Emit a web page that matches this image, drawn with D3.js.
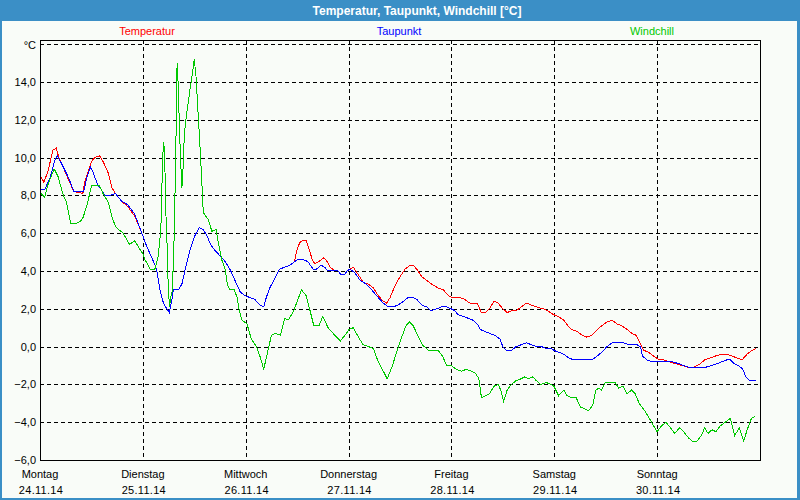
<!DOCTYPE html>
<html><head><meta charset="utf-8">
<script src="https://cdn.jsdelivr.net/npm/d3@7"></script>
<style>html,body{margin:0;padding:0;background:#3b8fc6;overflow:hidden}svg{display:block}</style>
</head><body><svg id="c" width="800" height="500"></svg>
<script>
const chartTitle = "Temperatur, Taupunkt, Windchill [°C]";
const seriesNames = ["Temperatur", "Taupunkt", "Windchill"];
const seriesColors = ["#ff0000", "#0000ff", "#00c800"];
const dayNames = ["Montag", "Dienstag", "Mittwoch", "Donnerstag", "Freitag", "Samstag", "Sonntag"];
const dayDates = ["24.11.14", "25.11.14", "26.11.14", "27.11.14", "28.11.14", "29.11.14", "30.11.14"];
const yTickValues = [-6, -4, -2, 0, 2, 4, 6, 8, 10, 12, 14];
const unitLabel = "°C";
const yMin = -6, yMax = 16.22, hoursTotal = 168;

// [hours since Monday 00:00, °C]
const temperature = [[0.2,9.0],[0.9,8.7],[1.9,9.3],[3.0,10.4],[3.8,10.5],[4.4,10.0],[5.0,9.7],[6.5,8.9],[7.9,8.2],[10.0,8.1],[10.4,8.7],[11.6,9.5],[12.0,9.8],[12.8,10.0],[13.9,10.1],[14.7,9.8],[15.9,9.2],[16.8,8.4],[17.6,8.1],[19.0,7.7],[20.5,7.4],[22.1,6.9],[23.6,6.1],[24.9,5.3],[26.1,4.7],[27.2,4.1],[28.0,3.0],[28.8,2.3],[29.6,2.0],[30.2,1.8],[30.5,2.2],[30.9,2.6],[31.1,3.0],[32.3,3.0],[33.1,3.3],[33.8,4.0],[35.0,5.1],[36.2,5.9],[37.2,6.3],[38.0,6.2],[38.9,5.9],[39.8,5.4],[40.8,5.1],[42.0,4.8],[43.2,4.5],[44.3,4.1],[45.5,3.5],[46.7,2.9],[47.8,2.7],[48.9,2.6],[50.1,2.5],[51.3,2.2],[52.2,2.1],[52.8,2.6],[53.6,3.1],[54.8,3.6],[55.9,4.1],[57.1,4.2],[58.3,4.3],[59.4,4.5],[59.8,5.0],[60.6,5.5],[61.2,5.6],[62.1,5.6],[62.9,5.1],[63.5,4.6],[64.1,4.4],[65.1,4.5],[66.2,4.7],[67.0,4.5],[67.7,4.2],[68.8,4.0],[69.5,4.0],[70.3,3.8],[71.1,3.8],[71.6,4.0],[72.3,4.1],[73.1,4.2],[74.3,3.8],[75.4,3.4],[76.6,3.3],[77.8,3.1],[78.9,2.7],[80.1,2.4],[80.9,2.3],[81.7,2.6],[82.8,3.2],[84.0,3.7],[85.2,4.1],[86.3,4.3],[87.1,4.3],[87.9,4.1],[89.1,3.7],[90.2,3.5],[91.4,3.3],[92.9,3.1],[94.1,3.0],[95.3,2.7],[96.1,2.6],[96.8,2.6],[97.9,2.6],[99.1,2.5],[100.3,2.3],[101.4,2.3],[102.0,2.3],[103.0,1.8],[103.9,1.8],[104.9,2.0],[105.9,2.4],[106.9,2.3],[108.0,2.0],[109.0,1.8],[110.1,1.9],[111.1,1.9],[112.3,2.1],[113.5,2.3],[114.6,2.2],[115.8,2.1],[117.4,2.0],[118.5,1.9],[119.7,1.7],[120.9,1.6],[122.2,1.4],[123.2,1.1],[124.1,0.9],[125.3,0.8],[126.5,0.6],[127.6,0.5],[128.8,0.6],[130.0,0.9],[131.1,1.1],[132.3,1.3],[133.5,1.4],[134.6,1.2],[135.8,1.1],[137.0,0.9],[138.1,0.7],[139.1,0.6],[139.8,0.3],[140.9,-0.2],[142.0,-0.3],[143.2,-0.5],[144.4,-0.7],[145.5,-0.7],[146.7,-0.8],[148.2,-0.9],[149.8,-1.0],[151.4,-1.1],[152.5,-1.1],[154.1,-0.9],[155.1,-0.7],[156.4,-0.6],[157.6,-0.5],[159.1,-0.4],[160.3,-0.4],[161.5,-0.5],[162.6,-0.6],[163.8,-0.7],[165.0,-0.4],[166.1,-0.2],[167.1,-0.1]];

const dewPoint = [[0.2,8.3],[1.1,8.3],[2.3,8.9],[3.4,9.8],[4.0,10.1],[5.0,9.7],[6.1,9.2],[6.9,8.8],[7.9,8.2],[10.2,8.2],[11.0,9.0],[11.8,9.5],[12.4,9.2],[13.4,8.6],[14.3,8.3],[15.1,8.0],[16.3,8.0],[17.6,8.1],[19.0,7.7],[20.5,7.5],[22.1,7.0],[23.6,6.1],[24.9,5.3],[26.1,4.7],[27.2,4.1],[28.0,3.0],[28.8,2.3],[29.6,2.0],[30.2,1.8],[30.5,2.2],[30.9,2.6],[31.1,3.0],[32.3,3.0],[33.1,3.3],[33.8,4.0],[35.0,5.1],[36.2,5.9],[37.2,6.3],[38.0,6.2],[38.9,5.9],[39.8,5.4],[40.8,5.1],[42.0,4.8],[43.2,4.5],[44.3,4.1],[45.5,3.5],[46.7,2.9],[47.8,2.7],[48.9,2.6],[50.1,2.5],[51.3,2.2],[52.2,2.1],[52.8,2.6],[53.6,3.1],[54.8,3.6],[55.9,4.1],[57.1,4.2],[58.3,4.3],[59.4,4.5],[60.2,4.6],[61.4,4.6],[62.5,4.5],[63.7,4.1],[64.5,4.1],[65.6,4.3],[66.4,4.2],[67.2,4.0],[68.4,4.0],[69.5,4.0],[70.3,3.8],[71.1,3.8],[71.6,4.0],[72.3,4.1],[73.5,3.9],[74.7,3.5],[76.2,3.3],[77.4,3.0],[78.9,2.6],[80.1,2.3],[81.3,2.1],[82.4,2.1],[83.6,2.2],[84.8,2.4],[85.9,2.6],[87.1,2.6],[87.9,2.5],[89.1,2.2],[90.2,2.1],[91.2,1.9],[92.6,2.0],[93.7,2.1],[94.9,2.1],[95.9,2.0],[96.8,1.9],[97.5,1.7],[98.7,1.6],[99.9,1.5],[101.0,1.4],[102.0,1.2],[102.8,0.9],[103.8,0.8],[104.9,0.7],[106.1,0.6],[107.3,0.4],[108.0,0.0],[108.8,-0.2],[110.0,-0.2],[111.1,0.0],[112.3,0.1],[113.5,0.2],[114.6,0.1],[115.8,0.0],[117.0,0.0],[118.1,-0.1],[119.3,-0.1],[119.9,-0.2],[121.0,-0.3],[122.2,-0.4],[123.4,-0.6],[124.5,-0.7],[125.7,-0.7],[127.2,-0.7],[128.8,-0.7],[130.0,-0.5],[131.1,-0.3],[132.3,0.0],[133.5,0.2],[134.6,0.2],[136.2,0.2],[137.4,0.1],[139.3,0.1],[140.1,0.0],[140.6,-0.5],[141.6,-0.7],[142.8,-0.8],[144.4,-0.8],[145.9,-0.8],[147.5,-0.8],[149.0,-0.9],[150.2,-1.0],[151.4,-1.1],[152.5,-1.1],[153.7,-1.1],[155.2,-1.1],[156.8,-1.0],[158.0,-0.9],[159.1,-0.8],[160.3,-0.7],[161.1,-0.7],[161.9,-0.9],[163.0,-1.0],[164.0,-1.2],[164.7,-1.6],[165.5,-1.8],[166.1,-1.8],[167.1,-1.8]];

const windChill = [[0.2,8.1],[1.1,7.9],[1.9,8.6],[3.3,9.4],[4.2,9.0],[4.8,8.5],[5.6,7.9],[6.1,7.7],[7.2,6.5],[8.1,6.5],[9.3,6.6],[10.0,6.8],[11.0,7.5],[12.0,8.5],[13.9,8.5],[14.7,8.1],[16.0,7.6],[17.0,6.7],[17.8,6.3],[19.4,6.0],[20.9,5.4],[22.1,5.6],[22.9,5.3],[24.0,4.9],[24.5,4.6],[25.7,4.1],[26.8,4.1],[27.6,4.8],[28.2,6.2],[28.4,7.9],[28.6,10.0],[28.9,10.8],[29.1,9.9],[29.4,6.9],[29.7,5.1],[29.9,3.3],[30.2,2.1],[30.5,2.6],[30.9,3.0],[31.3,5.8],[31.7,10.4],[31.9,14.1],[32.0,15.0],[32.3,13.6],[32.5,11.8],[32.8,9.9],[33.1,8.4],[33.3,9.0],[33.7,11.3],[34.2,12.3],[35.0,13.6],[35.6,14.5],[36.0,15.2],[36.4,14.3],[36.9,12.3],[37.5,9.9],[38.1,7.1],[39.3,6.7],[40.1,6.1],[41.1,6.2],[41.6,5.5],[42.4,4.6],[43.2,4.1],[43.7,3.3],[44.3,3.0],[45.3,3.0],[46.0,2.6],[46.5,1.9],[47.1,1.4],[48.3,1.2],[49.3,0.4],[50.5,0.0],[51.3,-0.5],[52.2,-1.2],[53.2,-0.2],[54.0,0.6],[55.0,0.7],[56.1,0.6],[57.1,1.5],[57.9,1.4],[59.0,1.8],[60.2,2.5],[61.0,3.0],[62.1,2.7],[62.9,2.0],[63.9,1.1],[65.1,1.1],[66.0,1.6],[67.2,1.0],[68.8,0.6],[70.1,0.3],[71.5,0.7],[72.1,0.9],[73.1,1.0],[74.3,0.5],[75.4,0.1],[76.6,0.0],[77.8,-0.1],[78.9,-0.8],[80.1,-1.3],[81.0,-1.7],[82.1,-1.1],[83.2,-0.3],[84.4,0.5],[85.4,1.1],[86.2,1.3],[87.1,1.1],[88.1,0.6],[89.2,0.1],[90.6,-0.2],[91.8,-0.2],[92.9,-0.2],[93.9,-0.5],[94.9,-1.0],[95.9,-1.0],[97.1,-1.2],[98.3,-1.3],[99.5,-1.2],[100.6,-1.3],[101.6,-1.4],[102.4,-1.7],[103.0,-2.7],[103.9,-2.6],[104.9,-2.5],[105.9,-2.1],[106.9,-2.0],[107.5,-2.3],[108.2,-2.9],[109.0,-2.3],[110.0,-2.0],[111.1,-1.8],[112.3,-1.7],[113.1,-1.6],[114.0,-1.7],[115.0,-1.6],[115.8,-1.8],[116.8,-2.0],[118.1,-1.9],[119.3,-2.0],[119.9,-2.1],[121.0,-2.6],[122.2,-2.3],[123.0,-2.6],[124.0,-2.7],[125.1,-2.7],[126.1,-3.2],[127.2,-3.3],[128.0,-3.4],[129.0,-3.1],[129.7,-2.3],[130.4,-2.2],[131.0,-2.3],[131.9,-1.9],[133.1,-1.9],[134.2,-1.9],[135.0,-2.2],[136.0,-2.1],[137.0,-2.5],[138.0,-2.3],[138.9,-2.5],[139.8,-3.0],[141.1,-3.4],[142.2,-3.8],[143.2,-4.2],[144.0,-4.5],[145.0,-4.2],[146.1,-4.0],[147.1,-4.3],[148.1,-4.6],[149.2,-4.3],[150.2,-4.5],[151.2,-4.8],[152.1,-5.0],[153.3,-5.0],[154.3,-4.7],[155.1,-4.3],[155.9,-4.6],[156.8,-4.4],[157.7,-4.5],[158.7,-4.2],[159.9,-4.0],[161.1,-3.8],[162.1,-4.7],[163.2,-4.3],[164.2,-5.0],[165.0,-4.4],[166.0,-3.8],[166.9,-3.7]];

const svg = d3.select("#c");
const font = "'Liberation Sans', Arial, sans-serif";
const P = {l: 40, r: 760, t: 40, b: 460};

// window background
svg.append("rect").attr("x", 0).attr("y", 0).attr("width", 800).attr("height", 500).attr("fill", "#3b8fc6");
svg.append("rect").attr("x", 2).attr("y", 21).attr("width", 795).attr("height", 477).attr("fill", "#f9fcf8");

svg.append("text").attr("x", 417).attr("y", 15).attr("text-anchor", "middle")
  .attr("font-family", font).attr("font-size", 12).attr("font-weight", "bold").attr("fill", "#ffffff")
  .text(chartTitle);

const x = d3.scaleLinear().domain([0, hoursTotal]).range([P.l, P.r]);
const y = d3.scaleLinear().domain([yMin, yMax]).range([P.b, P.t]);

const grid = svg.append("g").attr("stroke", "#000").attr("stroke-width", 1)
  .attr("stroke-dasharray", "4,3").attr("shape-rendering", "crispEdges");
const gridY = d3.range(yMin, 17, 2);
grid.selectAll("line.h").data(gridY).join("line").attr("class", "h")
  .attr("x1", P.l).attr("x2", P.r)
  .attr("y1", d => Math.round(y(d)) + 0.5).attr("y2", d => Math.round(y(d)) + 0.5);
grid.selectAll("line.v").data(d3.range(1, 7)).join("line").attr("class", "v")
  .attr("y1", P.t).attr("y2", P.b)
  .attr("x1", d => Math.round(x(d * 24)) + 0.5).attr("x2", d => Math.round(x(d * 24)) + 0.5);

// frame
svg.append("rect").attr("x", P.l + 0.5).attr("y", P.t + 0.5).attr("width", P.r - P.l).attr("height", P.b - P.t)
  .attr("fill", "none").attr("stroke", "#000").attr("shape-rendering", "crispEdges");

// y labels
const yl = svg.append("g").attr("font-family", font).attr("font-size", 11).attr("fill", "#000").attr("text-anchor", "end");
yl.selectAll("text").data(yTickValues).join("text")
  .attr("x", 36).attr("y", d => Math.round(y(d)) + 4)
  .text(d => d3.format(".1f")(d).replace(".", ",").replace("-", "-"));
yl.append("text").attr("x", 36).attr("y", Math.round(y(16)) + 5).text(unitLabel);

// x labels
const xl = svg.append("g").attr("font-family", font).attr("font-size", 11).attr("fill", "#000").attr("text-anchor", "middle");
xl.selectAll("text.n").data(dayNames).join("text").attr("class", "n")
  .attr("x", (d, i) => x(i * 24)).attr("y", 478).text(d => d);
xl.selectAll("text.d").data(dayDates).join("text").attr("class", "d")
  .attr("x", (d, i) => x(i * 24) + 1).attr("y", 494).attr("letter-spacing", "0.3").text(d => d);

// legend
const legendX = [147, 399, 652];
svg.selectAll("text.leg").data(seriesNames).join("text").attr("class", "leg")
  .attr("x", (d, i) => legendX[i]).attr("y", 35).attr("text-anchor", "middle")
  .attr("font-family", font).attr("font-size", 11).attr("fill", (d, i) => seriesColors[i]).text(d => d);

// lines
svg.append("clipPath").attr("id", "clip").append("rect")
  .attr("x", P.l + 1).attr("y", P.t + 1).attr("width", P.r - P.l - 1).attr("height", P.b - P.t - 1);
const line = d3.line().x(d => x(d[0])).y(d => y(d[1]));
const lg = svg.append("g").attr("clip-path", "url(#clip)");
[temperature, dewPoint, windChill].forEach((s, i) => {
  lg.append("path").attr("d", line(s)).attr("fill", "none")
    .attr("stroke", seriesColors[i]).attr("stroke-width", 1).attr("shape-rendering", "crispEdges");
});
</script></body></html>
